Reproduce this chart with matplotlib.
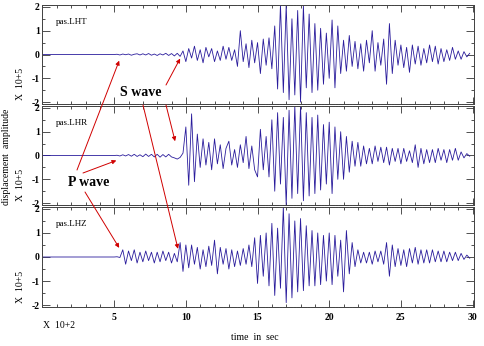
import numpy as np
import matplotlib
matplotlib.use("Agg")
import matplotlib.pyplot as plt
from matplotlib.patches import ConnectionPatch
from matplotlib.ticker import MultipleLocator

plt.rcParams.update({
    "font.family": "serif",
    "font.serif": ["Liberation Serif", "DejaVu Serif"],
    "font.weight": "bold",
})

# ── Traces: successive peak amplitudes (x 1e-5), one every STEP seconds from 0 s ──
STEP = 0.2
QUIET = [0.0] * 25          # 0-5 s, before the first arrival

LHT = QUIET + [
    0.00, 0.01, -0.02, 0.02, -0.01,
    0.02, -0.03, 0.01, 0.03, -0.02,
    0.03, -0.02, 0.04, -0.03, 0.02,
    -0.04, 0.03, -0.02, 0.05, -0.04,
    0.04, -0.06, 0.05, -0.08, 0.15,
    -0.30, 0.25, -0.15, 0.35, -0.25,
    0.20, -0.35, 0.30, -0.10, 0.25,
    -0.30, 0.15, -0.25, 0.35, -0.20,
    0.30, -0.25, 0.20, -0.50, 1.00,
    -0.30, 0.45, -0.55, 0.60, -0.35,
    0.50, -0.80, 0.65, -0.45, 0.70,
    -0.60, 1.20, -1.45, 2.10, -1.60,
    2.10, -1.90, 1.50, -1.70, 1.85,
    -2.00, 2.05, -1.40, 1.70, -1.60,
    1.30, -1.50, 1.10, -1.25, 0.90,
    -1.00, 1.45, -1.40, 1.20, -0.80,
    0.60, -0.70, 0.80, -0.50, 0.55,
    -0.60, 0.45, -0.70, 0.60, -0.35,
    1.00, -0.70, 0.50, -0.45, 0.65,
    -1.25, 1.30, -0.80, 0.60, -0.45,
    0.40, -0.55, 0.30, -0.75, 0.40,
    -0.40, 0.35, -0.45, 0.25, -0.35,
    0.40, -0.30, 0.35, -0.40, 0.25,
    -0.30, 0.20, -0.25, 0.30, -0.20,
    0.15, -0.20, 0.12, -0.10, 0.05,
]

LHR = QUIET + [
    0.00, 0.01, -0.02, 0.03, -0.02,
    0.04, -0.03, 0.05, -0.04, 0.03,
    -0.05, 0.06, -0.04, 0.05, -0.06,
    0.05, -0.07, 0.04, -0.06, 0.05,
    -0.06, -0.10, -0.15, -0.08, 0.10,
    1.20, -1.25, 1.75, -1.10, 0.90,
    -0.50, 0.70, -0.40, 0.55, -0.60,
    0.70, -0.35, 0.45, -0.55, 0.30,
    0.60, -0.40, 0.25, -0.50, 0.45,
    -0.30, 0.80, -0.55, 0.40, -0.60,
    -0.90, 1.10, -0.60, 0.80, -0.90,
    1.50, -1.50, 1.80, -1.20, 1.60,
    -2.10, 1.90, -1.80, 2.10, -1.60,
    2.10, -1.90, 1.80, -1.70, 1.60,
    -1.60, 1.70, -1.45, 1.30, -1.20,
    1.40, -1.60, 1.20, -1.00, 1.00,
    -1.00, 0.80, -0.70, 0.60, -0.45,
    0.55, -0.45, 0.40, -0.35, 0.30,
    -0.35, 0.40, -0.25, 0.35, -0.30,
    0.35, -0.40, 0.30, -0.25, 0.30,
    -0.35, 0.30, -0.25, 0.20, -0.30,
    0.45, -0.50, 0.30, -0.35, 0.25,
    -0.30, 0.25, -0.30, 0.30, -0.20,
    0.25, -0.30, 0.25, -0.20, 0.30,
    -0.20, 0.15, -0.10, 0.08, -0.03,
]

LHZ = QUIET + [
    0.00, 0.01, -0.02, 0.30, -0.30,
    0.25, -0.15, 0.30, -0.25, 0.20,
    -0.20, 0.25, -0.15, 0.20, -0.25,
    0.20, -0.20, 0.25, -0.15, 0.20,
    -0.25, 0.15, -0.20, 0.60, -0.60,
    0.50, -0.45, 0.50, -0.30, 0.40,
    -0.50, 0.30, -0.40, 0.45, -0.35,
    0.70, -0.70, 0.40, -0.30, 0.35,
    -0.50, 0.30, -0.40, 0.25, -0.35,
    0.35, -0.30, 0.50, -0.40, 0.80,
    -1.10, 0.90, -0.80, 1.00, -1.20,
    1.40, -1.60, 1.20, -1.30, 2.10,
    -1.90, 1.80, -1.70, 1.50, -1.45,
    1.60, -1.40, 1.30, -1.20, 1.10,
    -1.20, 1.00, -1.15, 0.90, -1.00,
    1.00, -1.15, 0.90, -0.80, 0.70,
    -1.45, 1.10, -0.70, 0.60, -0.40,
    0.30, -0.25, 0.20, -0.25, 0.20,
    -0.30, 0.25, -0.20, 0.25, -0.30,
    0.60, -0.80, 0.50, -0.40, 0.35,
    -0.35, 0.30, -0.40, 0.35, -0.25,
    0.40, -0.30, 0.30, -0.25, 0.30,
    -0.25, 0.30, -0.20, 0.25, -0.20,
    0.25, -0.20, 0.20, -0.15, 0.20,
    -0.15, 0.15, -0.10, 0.08, -0.05,
]

STATIONS = ["pas.LHT", "pas.LHR", "pas.LHZ"]
TRACES = [LHT, LHR, LHZ]

# phase picks (time, amplitude at arrow tip) per component
P_PICKS = [(5.35, -0.26), (5.15, -0.21), (5.35, 0.38)]
S_PICKS = [(9.60, -0.17), (9.25, 0.60), (9.45, 0.34)]

TRACE_COLOR = "#2a1c9c"
ARROW_COLOR = "#d00000"

W, H = 485, 346
fig = plt.figure(figsize=(W / 100, H / 100), dpi=100)


def fx(px):
    return px / W


def fy(py):
    return 1 - py / H


# axes boxes in pixel rows (top, bottom)
rows = [(5, 104), (106, 205), (207, 307)]
left, right = 42.5, 474
axes = []
for (top, bot), name, tr in zip(rows, STATIONS, TRACES):
    ax = fig.add_axes([fx(left), fy(bot), fx(right - left), (bot - top) / H])
    ax.set_facecolor("none")
    t = np.arange(len(tr)) * STEP
    ax.plot(t, tr, color=TRACE_COLOR, lw=0.6)
    ax.set_xlim(0, 30.1)
    ax.set_ylim(-2.08, 2.08)
    ax.xaxis.set_major_locator(MultipleLocator(5))
    ax.xaxis.set_minor_locator(MultipleLocator(1))
    ax.yaxis.set_major_locator(MultipleLocator(1))
    ax.yaxis.set_minor_locator(MultipleLocator(0.5))
    ax.tick_params(which="both", direction="in", top=True, right=True,
                   width=0.6, color="#333333", labelsize=7, pad=2)
    ax.tick_params(which="major", length=5)
    ax.tick_params(which="minor", length=2.5)
    ax.tick_params(axis="y", which="major", length=6)
    ax.set_yticks([-2, -1, 0, 1, 2])
    ax.set_yticklabels(["-2", "-1", "0", "1", "2"])
    for sp in ax.spines.values():
        sp.set_linewidth(0.7)
        sp.set_color("#444444")
        sp.set_linestyle((0, (1, 0.6)))
    ax.text(0.03, 0.83, name, transform=ax.transAxes, fontsize=6.5,
            fontweight="normal", va="center", ha="left")
    ax.text(-0.052, 0.2, "X  10+5", transform=ax.transAxes, fontsize=7,
            fontweight="normal", rotation=90, va="center", ha="center")
    axes.append(ax)

for ax in axes[:-1]:
    ax.tick_params(labelbottom=False)
axes[-1].set_xticks([5, 10, 15, 20, 25, 30])
axes[-1].tick_params(axis="x", pad=4)

fig.text(fx(7), fy(157), "displacement  amplitude", rotation=90, fontsize=7,
         fontweight="normal", ha="center", va="center")
fig.text(fx(43), fy(325), "X  10+2", fontsize=7, fontweight="normal",
         ha="left", va="center")
fig.text(fx(255), fy(337), "time  in  sec", fontsize=7, fontweight="normal",
         ha="center", va="center")

# phase labels with arrows pointing at the picks
fig.text(fx(141), fy(93), "S wave", fontsize=10, fontweight="bold",
         ha="center", va="center")
fig.text(fx(89), fy(182), "P wave", fontsize=10, fontweight="bold",
         ha="center", va="center")

p_tails = [(77, 170), (83, 173), (85, 192)]
s_tails = [(166, 85), (166, 105), (143, 105)]
for ax, (tp, yp), (ts, ys), pt, st in zip(axes, P_PICKS, S_PICKS, p_tails, s_tails):
    for (tx, ty), tip in [(pt, (tp, yp)), (st, (ts, ys))]:
        con = ConnectionPatch(xyA=(fx(tx), fy(ty)), coordsA=fig.transFigure,
                              xyB=tip, coordsB=ax.transData,
                              arrowstyle="-|>", color=ARROW_COLOR, lw=0.7,
                              mutation_scale=6, shrinkA=0, shrinkB=0)
        fig.add_artist(con)

fig.savefig("out.png", dpi=100)
